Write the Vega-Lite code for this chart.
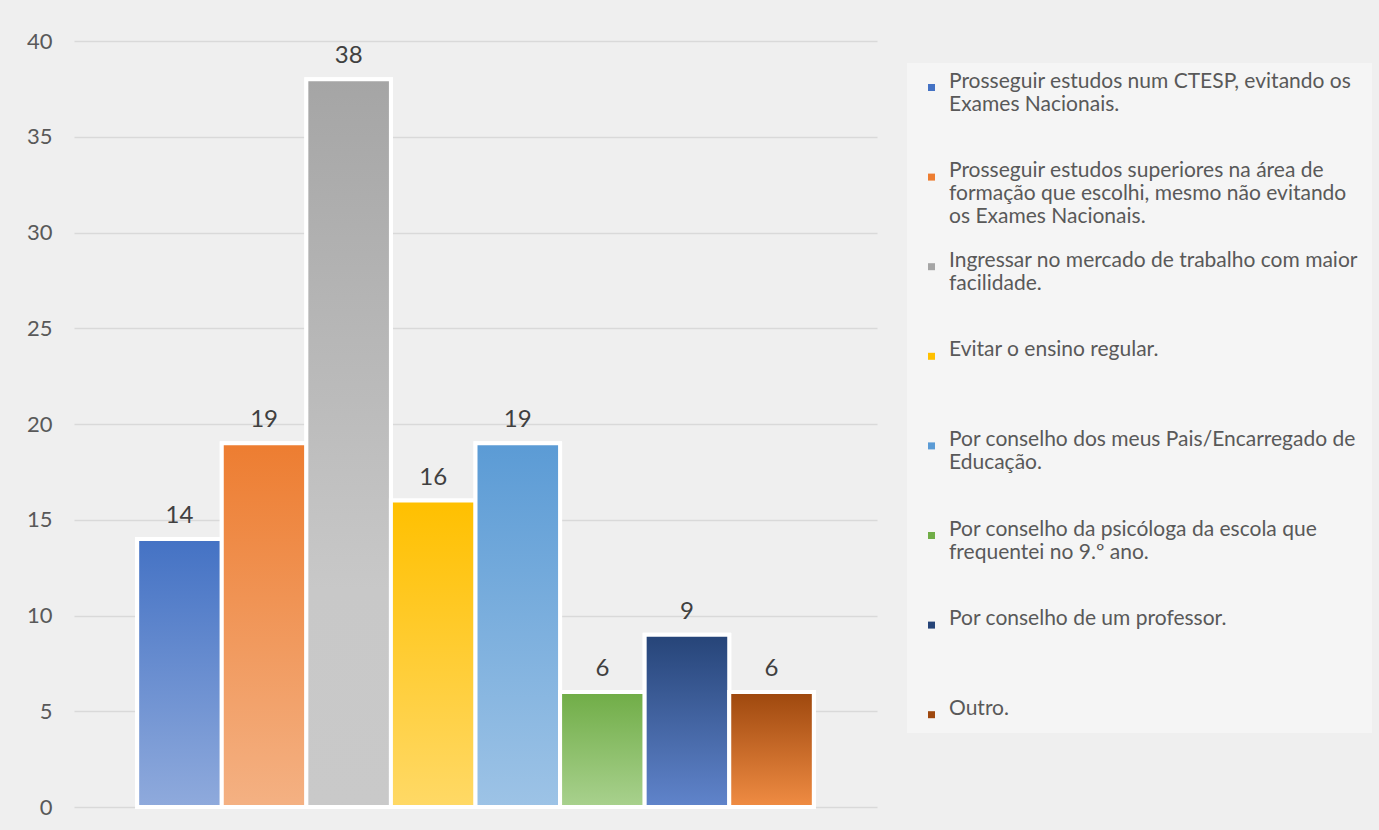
{
  "$schema": "https://vega.github.io/schema/vega-lite/v6.json",
  "width": 803,
  "height": 766,
  "autosize": {"type": "none"},
  "padding": {"left": 74, "top": 41, "right": 502, "bottom": 23},
  "background": "#efefef",
  "data": {
    "values": [
      {"categoria": "Prosseguir estudos num CTESP, evitando os\nExames Nacionais.", "valor": 14},
      {"categoria": "Prosseguir estudos superiores na área de\nformação que escolhi, mesmo não evitando\nos Exames Nacionais.", "valor": 19},
      {"categoria": "Ingressar no mercado de trabalho com maior\nfacilidade.", "valor": 38},
      {"categoria": "Evitar o ensino regular.", "valor": 16},
      {"categoria": "Por conselho dos meus Pais/Encarregado de\nEducação.", "valor": 19},
      {"categoria": "Por conselho da psicóloga da escola que\nfrequentei no 9.º ano.", "valor": 6},
      {"categoria": "Por conselho de um professor.", "valor": 9},
      {"categoria": "Outro.", "valor": 6}
    ]
  },
  "encoding": {
    "x": {"field": "categoria", "type": "nominal", "sort": null, "scale": {"paddingInner": 0, "paddingOuter": 0.747}, "axis": null},
    "y": {
      "field": "valor", "type": "quantitative",
      "scale": {"domain": [0, 40], "nice": false},
      "axis": {"values": [0, 5, 10, 15, 20, 25, 30, 35, 40], "title": null, "domain": false, "ticks": false, "grid": true, "gridColor": "#d9d9d9", "gridWidth": 1.5, "labelPadding": 22, "labelFont": "Lato", "labelFontSize": 22, "labelColor": "#595959"}
    }
  },
  "layer": [
    {
      "mark": {"type": "bar", "stroke": "white", "strokeWidth": 4},
      "encoding": {
        "color": {
          "field": "categoria", "type": "nominal", "sort": null,
          "scale": {"range": ["#4472C4", "#ED7D31", "#A5A5A5", "#FFC000", "#5B9BD5", "#70AD47", "#264478", "#9E480E"]},
          "legend": {
            "orient": "none", "legendX": 833, "legendY": 22, "title": null, "columns": 1, "gridAlign": "all", "rowPadding": 21.6,
            "symbolType": "square", "symbolSize": 49, "symbolStrokeWidth": 0,
            "labelFont": "Lato", "labelFontSize": 21, "labelColor": "#595959", "labelLimit": 470, "labelOffset": 7, "labelBaseline": "alphabetic",
            "labelExpr": "split(datum.label, '\\n')",
            "fillColor": "#f5f5f5", "padding": 14,
            "encode": {"labels": {"update": {"y": {"value": 11}, "lineHeight": {"value": 24}}}}
          }
        }
      }
    },
    {"transform": [{"filter": {"field": "categoria", "equal": "Prosseguir estudos num CTESP, evitando os\nExames Nacionais."}}],
     "mark": {"type": "bar", "stroke": "white", "strokeWidth": 4, "color": {"gradient": "linear", "x1": 0, "y1": 0, "x2": 0, "y2": 1, "stops": [{"offset": 0, "color": "#4472C4"}, {"offset": 1, "color": "#8FAADC"}]}}},
    {"transform": [{"filter": {"field": "categoria", "equal": "Prosseguir estudos superiores na área de\nformação que escolhi, mesmo não evitando\nos Exames Nacionais."}}],
     "mark": {"type": "bar", "stroke": "white", "strokeWidth": 4, "color": {"gradient": "linear", "x1": 0, "y1": 0, "x2": 0, "y2": 1, "stops": [{"offset": 0, "color": "#ED7D31"}, {"offset": 1, "color": "#F4B183"}]}}},
    {"transform": [{"filter": {"field": "categoria", "equal": "Ingressar no mercado de trabalho com maior\nfacilidade."}}],
     "mark": {"type": "bar", "stroke": "white", "strokeWidth": 4, "color": {"gradient": "linear", "x1": 0, "y1": 0, "x2": 0, "y2": 1, "stops": [{"offset": 0, "color": "#A5A5A5"}, {"offset": 0.7, "color": "#C8C8C8"}, {"offset": 1, "color": "#C9C9C9"}]}}},
    {"transform": [{"filter": {"field": "categoria", "equal": "Evitar o ensino regular."}}],
     "mark": {"type": "bar", "stroke": "white", "strokeWidth": 4, "color": {"gradient": "linear", "x1": 0, "y1": 0, "x2": 0, "y2": 1, "stops": [{"offset": 0, "color": "#FFC000"}, {"offset": 1, "color": "#FFD966"}]}}},
    {"transform": [{"filter": {"field": "categoria", "equal": "Por conselho dos meus Pais/Encarregado de\nEducação."}}],
     "mark": {"type": "bar", "stroke": "white", "strokeWidth": 4, "color": {"gradient": "linear", "x1": 0, "y1": 0, "x2": 0, "y2": 1, "stops": [{"offset": 0, "color": "#5B9BD5"}, {"offset": 1, "color": "#9DC3E6"}]}}},
    {"transform": [{"filter": {"field": "categoria", "equal": "Por conselho da psicóloga da escola que\nfrequentei no 9.º ano."}}],
     "mark": {"type": "bar", "stroke": "white", "strokeWidth": 4, "color": {"gradient": "linear", "x1": 0, "y1": 0, "x2": 0, "y2": 1, "stops": [{"offset": 0, "color": "#70AD47"}, {"offset": 1, "color": "#A9D18E"}]}}},
    {"transform": [{"filter": {"field": "categoria", "equal": "Por conselho de um professor."}}],
     "mark": {"type": "bar", "stroke": "white", "strokeWidth": 4, "color": {"gradient": "linear", "x1": 0, "y1": 0, "x2": 0, "y2": 1, "stops": [{"offset": 0, "color": "#264478"}, {"offset": 1, "color": "#6084CB"}]}}},
    {"transform": [{"filter": {"field": "categoria", "equal": "Outro."}}],
     "mark": {"type": "bar", "stroke": "white", "strokeWidth": 4, "color": {"gradient": "linear", "x1": 0, "y1": 0, "x2": 0, "y2": 1, "stops": [{"offset": 0, "color": "#9E480E"}, {"offset": 1, "color": "#F08C43"}]}}},
    {
      "mark": {"type": "text", "baseline": "alphabetic", "dy": -16, "font": "Lato", "fontSize": 24, "color": "#404040"},
      "encoding": {"text": {"field": "valor", "type": "quantitative"}}
    }
  ],
  "config": {"view": {"stroke": null}}
}
